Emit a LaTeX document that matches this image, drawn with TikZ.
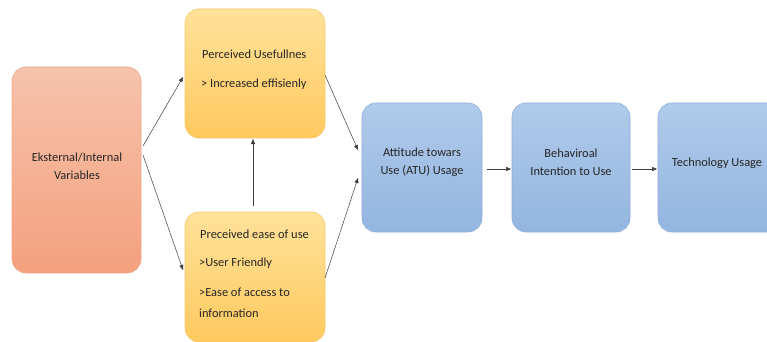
\documentclass[tikz,border=0pt]{standalone}
\usepackage{fontspec}
\setmainfont{Carlito}
\usetikzlibrary{arrows.meta}
\definecolor{orTop}{HTML}{F6C3AC}
\definecolor{orBot}{HTML}{F4A07E}
\definecolor{orLine}{HTML}{F0A88A}
\definecolor{yeTop}{HTML}{FFE29A}
\definecolor{yeBot}{HTML}{FFC95E}
\definecolor{yeLine}{HTML}{F8C86A}
\definecolor{blTop}{HTML}{B0CBEA}
\definecolor{blBot}{HTML}{93B5E0}
\definecolor{blLine}{HTML}{8FAED8}
\definecolor{arrC}{HTML}{3C3C3C}
\tikzset{
  boxbase/.style={draw, rounded corners=14pt, line width=0.6pt, inner sep=0pt},
  orbox/.style={boxbase, draw=orLine, top color=orTop, bottom color=orBot},
  yebox/.style={boxbase, draw=yeLine, top color=yeTop, bottom color=yeBot},
  blbox/.style={boxbase, draw=blLine, top color=blTop, bottom color=blBot},
  txt/.style={font=\fontsize{12.4}{15}\selectfont, text=black!85, inner sep=0pt},
  arr/.style={draw=arrC, line width=0.5pt, -{Triangle[length=5pt,width=4pt]}}
}
\begin{document}
\begin{tikzpicture}[x=1pt,y=-1pt]
\useasboundingbox (0,0) rectangle (767,342);
\clip (0,0) rectangle (767,342);
% boxes
\node[orbox, minimum width=129pt, minimum height=206pt] (ext) at (76.5,170) {};
\node[yebox, minimum width=140pt, minimum height=129pt] (pu) at (255,73.5) {};
\node[yebox, minimum width=140pt, minimum height=130pt] (peou) at (255,277) {};
\node[blbox, minimum width=120pt, minimum height=129pt] (atu) at (422,167.5) {};
\node[blbox, minimum width=118pt, minimum height=129pt] (bi) at (571,167.5) {};
\node[blbox, minimum width=125pt, minimum height=129pt] (tu) at (720.5,167.5) {};
% texts
\node[txt, align=center] (tExt) at (77,166) {Eksternal/Internal\\[3pt]Variables};
\node[txt, anchor=west] (tPu1) at (202,54) {Perceived Usefullnes};
\node[txt, anchor=west] (tPu2) at (201,84) {> Increased effisienly};
\node[txt, anchor=west] (tPe1) at (200,234) {Preceived ease of use};
\node[txt, anchor=west] (tPe2) at (199,263) {>User Friendly};
\node[txt, anchor=west] (tPe3) at (199,292) {>Ease of access to};
\node[txt, anchor=west] (tPe4) at (199,313) {information};
\node[txt, align=center] (tAtu) at (422,162) {Attitude towars\\[3pt]Use (ATU) Usage};
\node[txt, align=center] (tBi) at (571,162) {Behaviroal\\[3pt]Intention to Use};
\node[txt] (tTu) at (717,163) {Technology Usage};
% connector endpoints
\coordinate (e1) at (143,146);
\coordinate (e2) at (143,155);
\coordinate (p1) at (183,77);
\coordinate (q1) at (183,270);
\coordinate (qTop) at (253,206);
\coordinate (pBot) at (253,139);
\coordinate (pR) at (325,75);
\coordinate (qR) at (325,278);
\coordinate (a1) at (358,150);
\coordinate (a2) at (358,178);
\coordinate (aR) at (487,169);
\coordinate (bL) at (511,169);
\coordinate (bR) at (632,169);
\coordinate (cL) at (657,169);
\draw[arr] (e1) -- (p1);
\draw[arr] (e2) -- (q1);
\draw[arr] (qTop) -- (pBot);
\draw[arr] (pR) -- (a1);
\draw[arr] (qR) -- (a2);
\draw[arr] (aR) -- (bL);
\draw[arr] (bR) -- (cL);
\end{tikzpicture}
\end{document}
